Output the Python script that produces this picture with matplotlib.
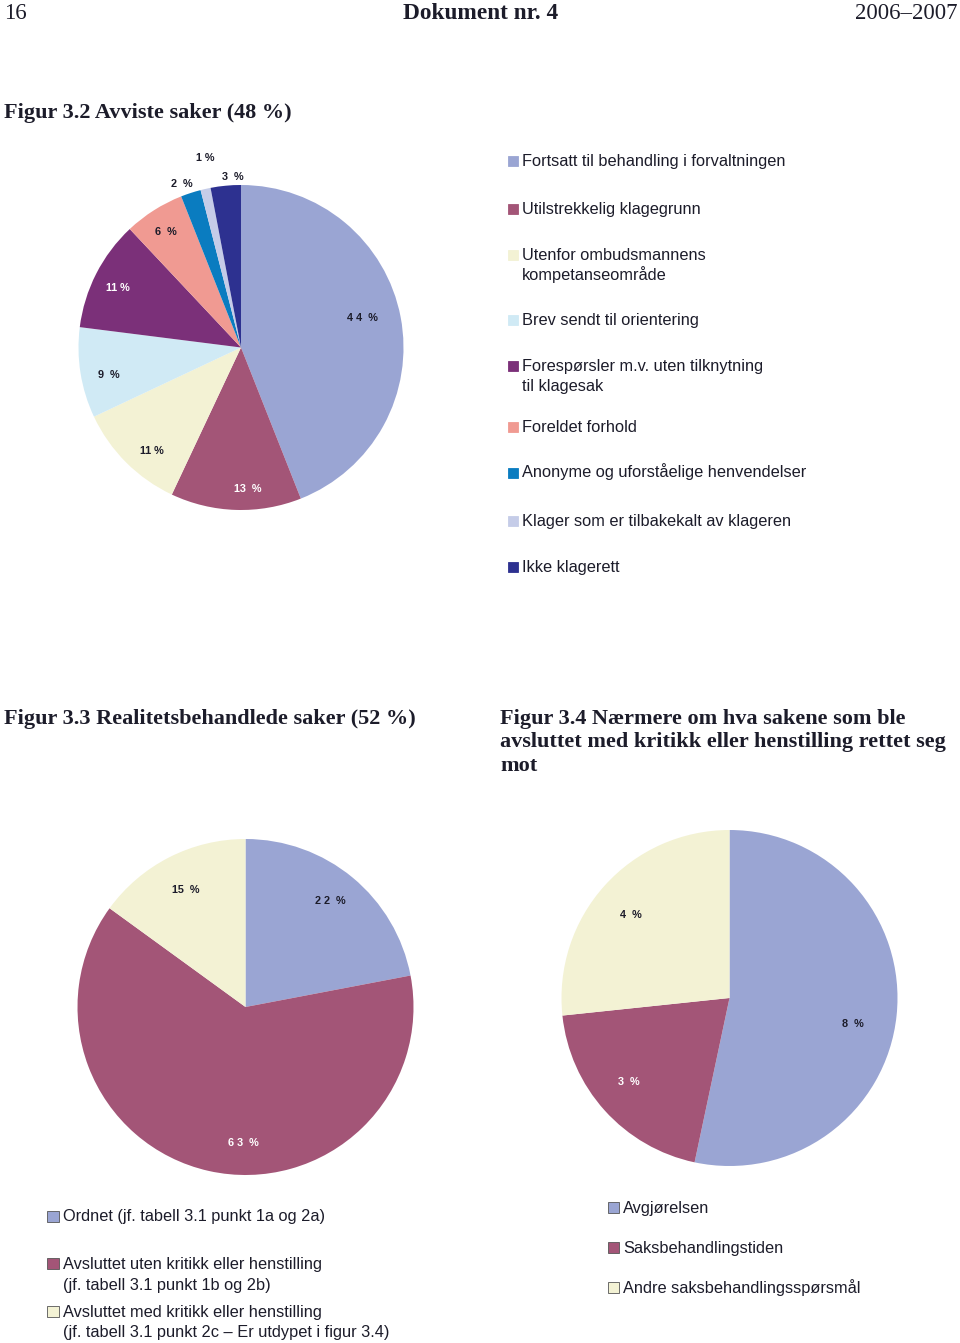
import numpy as np
import matplotlib
matplotlib.use("Agg")
import matplotlib.pyplot as plt
from matplotlib.patches import Rectangle

# Figur 3.2 - avviste saker
avviste_labels = ["Fortsatt til behandling i forvaltningen",
                  "Utilstrekkelig klagegrunn",
                  "Utenfor ombudsmannens\nkompetanseområde",
                  "Brev sendt til orientering",
                  "Forespørsler m.v. uten tilknytning\ntil klagesak",
                  "Foreldet forhold",
                  "Anonyme og uforståelige henvendelser",
                  "Klager som er tilbakekalt av klageren",
                  "Ikke klagerett"]
avviste_values = [44, 13, 11, 9, 11, 6, 2, 1, 3]
avviste_text = ["4 4  %", "13  %", "11 %", "9  %", "11 %", "6  %", "2  %", "1 %", "3  %"]

# Figur 3.3 - realitetsbehandlede saker
real_labels = ["Ordnet (jf. tabell 3.1 punkt 1a og 2a)",
               "Avsluttet uten kritikk eller henstilling\n(jf. tabell 3.1 punkt 1b og 2b)",
               "Avsluttet med kritikk eller henstilling\n(jf. tabell 3.1 punkt 2c – Er utdypet i figur 3.4)"]
real_values = [22, 63, 15]
real_text = ["2 2  %", "6 3  %", "15  %"]

# Figur 3.4 - kritikk eller henstilling
krit_labels = ["Avgjørelsen", "Saksbehandlingstiden", "Andre saksbehandlingsspørsmål"]
krit_values = [8, 3, 4]
krit_text = ["8  %", "3  %", "4  %"]

# colours
c_lilla = "#9AA5D3"
c_mauve = "#A35577"
c_creme = "#F3F2D4"
c_cyan = "#D0EAF5"
c_purple = "#7B3079"
c_salmon = "#F09A92"
c_blue = "#0A7CC0"
c_lav = "#C5CCE8"
c_navy = "#2D3190"
dark = "#1c1c2a"

avviste_colors = [c_lilla, c_mauve, c_creme, c_cyan, c_purple, c_salmon, c_blue, c_lav, c_navy]
real_colors = [c_lilla, c_mauve, c_creme]
krit_colors = [c_lilla, c_mauve, c_creme]

W, H = 960, 1343
fig = plt.figure(figsize=(W / 100, H / 100), dpi=100)

serif = "Liberation Serif"
sans = "Liberation Sans"


def fx(x):
    return x / W


def fy(y):
    return 1 - y / H


def pie_axes(cx, cy, r):
    return fig.add_axes([(cx - r) / W, (H - cy - r) / H, 2 * r / W, 2 * r / H])


def draw_pie(ax, values, colors, texts, radii, offsets, tcolors):
    wedges, _ = ax.pie(values, colors=colors, startangle=90, counterclock=False,
                       wedgeprops=dict(linewidth=0))
    ax.set_xlim(-1, 1)
    ax.set_ylim(-1, 1)
    for w, t, r, da, c in zip(wedges, texts, radii, offsets, tcolors):
        ang = np.deg2rad((w.theta1 + w.theta2) / 2 + da)
        ax.text(r * np.cos(ang), r * np.sin(ang), t, ha="center", va="center",
                fontsize=7.8, fontweight="bold", color=c, family=sans)


def lines(x, y, txt, pitch, **kw):
    # one fig.text per line so the first line sits on the given baseline
    for i, part in enumerate(txt.split("\n")):
        fig.text(fx(x), fy(y + i * pitch), part, va="baseline", **kw)


def legend(x, baselines, labels, colors, size, edge=None, pitch=20.5):
    for y, lab, c in zip(baselines, labels, colors):
        ec = edge if edge else c
        fig.patches.append(Rectangle((fx(x), fy(y)), size[0] / W, size[1] / H,
                                     facecolor=c, edgecolor=ec, linewidth=0.6,
                                     transform=fig.transFigure))
        lines(x + size[0] + 4, y, lab, pitch, fontsize=11.8, family=sans, color=dark)


# header
fig.text(fx(4), fy(19), "16", fontsize=16.5, family=serif, color=dark, va="baseline")
fig.text(fx(481), fy(19), "Dokument nr. 4", fontsize=16.8, family=serif,
         fontweight="bold", color=dark, va="baseline", ha="center")
fig.text(fx(958), fy(19), "2006–2007", fontsize=16.4, family=serif, color=dark,
         va="baseline", ha="right")

# titles
tkw = dict(fontsize=16, family=serif, fontweight="bold", color=dark)
lines(4, 118, "Figur 3.2 Avviste saker (48 %)", 23.5, **tkw)
lines(4, 724, "Figur 3.3 Realitetsbehandlede saker (52 %)", 23.5, **tkw)
lines(500, 724, "Figur 3.4 Nærmere om hva sakene som ble\n"
      "avsluttet med kritikk eller henstilling rettet seg\nmot", 23.5, **tkw)

# pies
ax1 = pie_axes(241, 347.5, 162.5)
draw_pie(ax1, avviste_values, avviste_colors, avviste_text,
         [0.77, 0.87, 0.84, 0.83, 0.84, 0.85, 1.07, 1.19, 1.05],
         [2.7, 4.5, 4, 2.8, 1.2, 0.5, 1.9, -1.8, -2.6],
         [dark, "white", dark, dark, "white", dark, dark, dark, dark])

ax2 = pie_axes(245.5, 1007, 168)
draw_pie(ax2, real_values, real_colors, real_text,
         [0.81, 0.81, 0.78], [1, 11.7, 0], [dark, "white", dark])

ax3 = pie_axes(729.5, 998, 168)
draw_pie(ax3, krit_values, krit_colors, krit_text,
         [0.75, 0.78, 0.77], [-5.9, -2.2, 2], [dark, "white", dark])

# legends
legend(508, [166, 214, 259.5, 324.5, 370.5, 431.5, 477.5, 526, 571.5],
       avviste_labels, avviste_colors, (10, 10), pitch=20.5)
legend(47, [1221.5, 1269, 1316.5], real_labels, real_colors, (12, 11),
       edge="#555555", pitch=21)
legend(608, [1212.5, 1253, 1292.5], krit_labels, krit_colors, (11, 11), edge="#555555")

fig.savefig("out.png", dpi=100, facecolor="white")
